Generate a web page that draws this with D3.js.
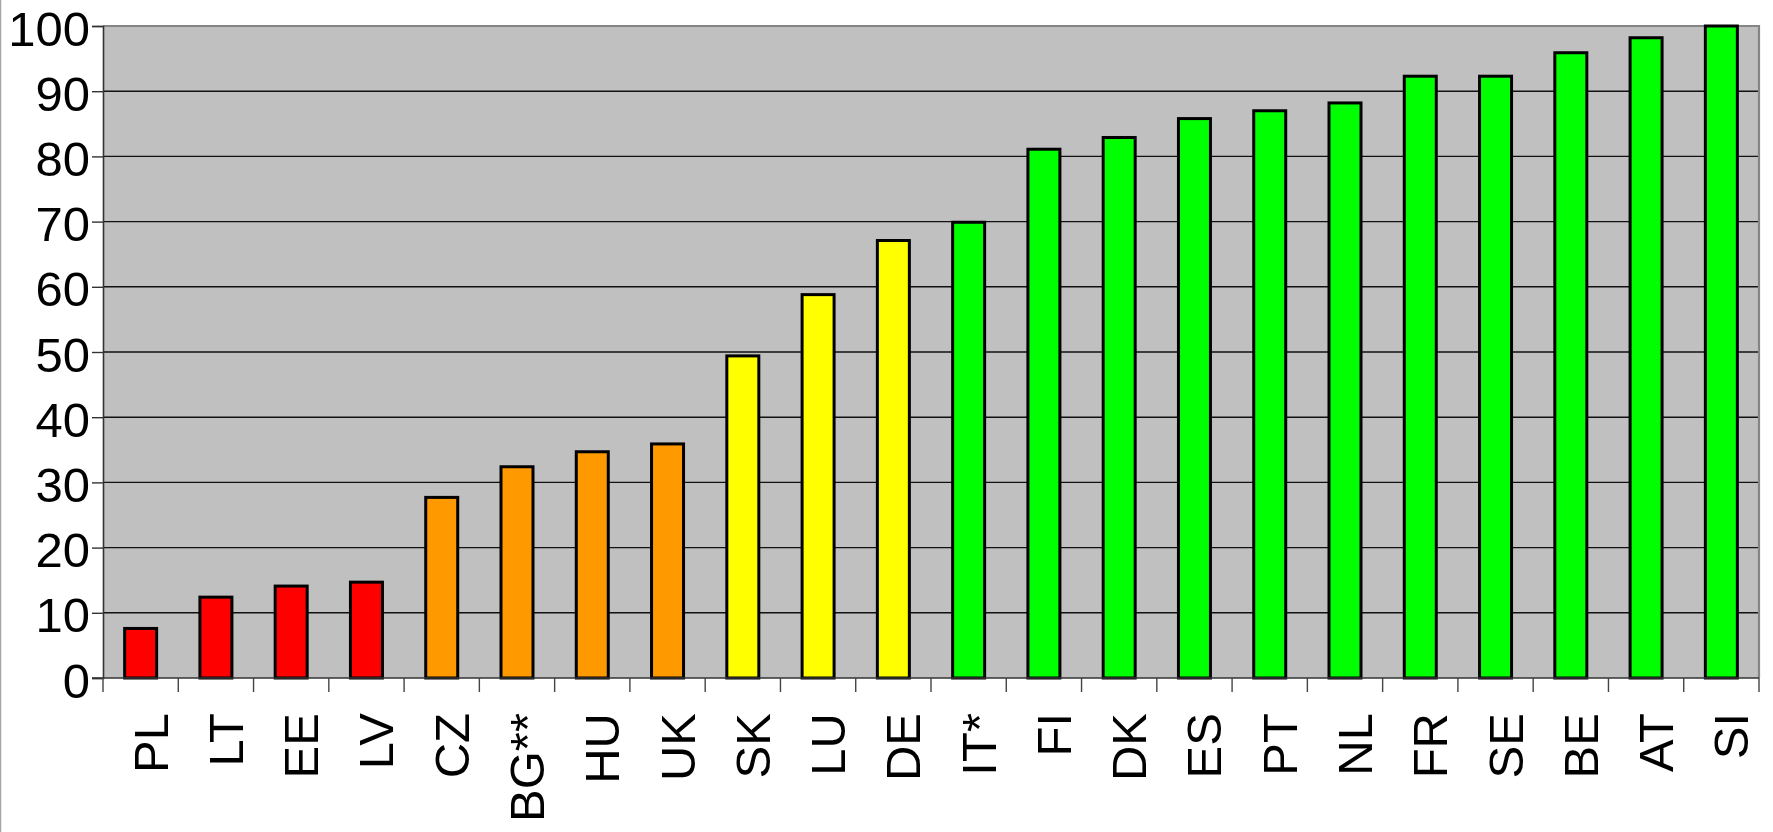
<!DOCTYPE html>
<html>
<head>
<meta charset="utf-8">
<script src="https://cdn.jsdelivr.net/npm/d3@7"></script>
<style>
  html, body { margin: 0; padding: 0; background: #fff; }
  svg { display: block; }
  text { font-family: "Liberation Sans", Arial, sans-serif; fill: #000; }
</style>
</head>
<body>
<svg id="chart" width="1773" height="832"></svg>
<script>
// Country codes, in display order
const categories = ["PL","LT","EE","LV","CZ","BG**","HU","UK","SK","LU","DE","IT*",
                    "FI","DK","ES","PT","NL","FR","SE","BE","AT","SI"];
// Score per country (0–100)
const values = [7.6, 12.4, 14.1, 14.7, 27.7, 32.4, 34.7, 35.9, 49.4, 58.8, 67.1, 69.9,
                81.1, 82.9, 85.8, 87.0, 88.2, 92.3, 92.3, 95.9, 98.2, 100];
// Colour group per country
const groups = ["low","low","low","low","mid","mid","mid","mid","upper","upper","upper",
                "high","high","high","high","high","high","high","high","high","high","high"];
const groupColors = { low: "#ff0000", mid: "#ff9900", upper: "#ffff00", high: "#00ff00" };
// Y axis tick labels
const yTicks = [0, 10, 20, 30, 40, 50, 60, 70, 80, 90, 100];

const svg = d3.select("#chart");
const plot = { left: 103, right: 1759, top: 26, bottom: 678 };

const x = d3.scaleBand()
  .domain(categories)
  .range([plot.left, plot.right])
  .paddingInner(0.575)
  .paddingOuter(0.2875);

const y = d3.scaleLinear()
  .domain([0, 100])
  .range([plot.bottom, plot.top]);

// faint frame line at the left edge of the image
svg.append("line")
  .attr("x1", 0.5).attr("x2", 0.5).attr("y1", 0).attr("y2", 832)
  .attr("stroke", "#a6a6a6").attr("stroke-width", 1.5);

// plot background
svg.append("rect")
  .attr("x", plot.left).attr("y", plot.top)
  .attr("width", plot.right - plot.left).attr("height", plot.bottom - plot.top)
  .attr("fill", "#c0c0c0");

// horizontal gridlines
svg.append("g")
  .selectAll("line")
  .data(yTicks.filter(d => d > 0 && d < 100))
  .join("line")
  .attr("x1", plot.left).attr("x2", plot.right)
  .attr("y1", d => y(d)).attr("y2", d => y(d))
  .attr("stroke", "#111").attr("stroke-width", 1.4);

// plot frame: top and right edges
svg.append("path")
  .attr("d", `M${plot.left},${plot.top}H${plot.right}V${plot.bottom}`)
  .attr("fill", "none").attr("stroke", "#858585").attr("stroke-width", 2.2);

// bars
svg.append("g")
  .selectAll("rect")
  .data(categories)
  .join("rect")
  .attr("x", d => x(d))
  .attr("y", (d, i) => y(values[i]))
  .attr("width", x.bandwidth())
  .attr("height", (d, i) => y(0) - y(values[i]))
  .attr("fill", (d, i) => groupColors[groups[i]])
  .attr("stroke", "#000")
  .attr("stroke-width", 3);

// Y axis
const yAxis = svg.append("g")
  .attr("transform", `translate(${plot.left},0)`)
  .call(d3.axisLeft(y).tickValues(yTicks).tickSize(11).tickPadding(2).tickFormat(d3.format("d")));
yAxis.select(".domain").attr("stroke", "#333").attr("stroke-width", 1.6);
yAxis.selectAll(".tick line").attr("stroke", "#333").attr("stroke-width", 1.4);
yAxis.selectAll(".tick text")
  .attr("font-size", 49)
  .attr("font-family", "Liberation Sans, Arial, sans-serif")
  .attr("dy", "0.39em");

// X axis: labels under each bar
const xAxis = svg.append("g")
  .attr("transform", `translate(0,${plot.bottom})`)
  .call(d3.axisBottom(x).tickSize(0).tickPadding(0));
xAxis.select(".domain").remove();
xAxis.selectAll(".tick text")
  .attr("font-size", 49)
  .attr("font-family", "Liberation Sans, Arial, sans-serif")
  .attr("text-anchor", "end")
  .attr("dy", null)
  .attr("y", null)
  .attr("transform", "translate(27,35) rotate(-90)");

// bottom axis line and tick marks at category boundaries
svg.append("line")
  .attr("x1", plot.left - 11).attr("x2", plot.right)
  .attr("y1", plot.bottom).attr("y2", plot.bottom)
  .attr("stroke", "#333").attr("stroke-width", 1.6);
const step = x.step();
svg.append("g")
  .selectAll("line")
  .data(d3.range(categories.length + 1))
  .join("line")
  .attr("x1", i => plot.left + i * step).attr("x2", i => plot.left + i * step)
  .attr("y1", plot.bottom).attr("y2", plot.bottom + 14)
  .attr("stroke", "#444").attr("stroke-width", 1.4);
</script>
</body>
</html>
